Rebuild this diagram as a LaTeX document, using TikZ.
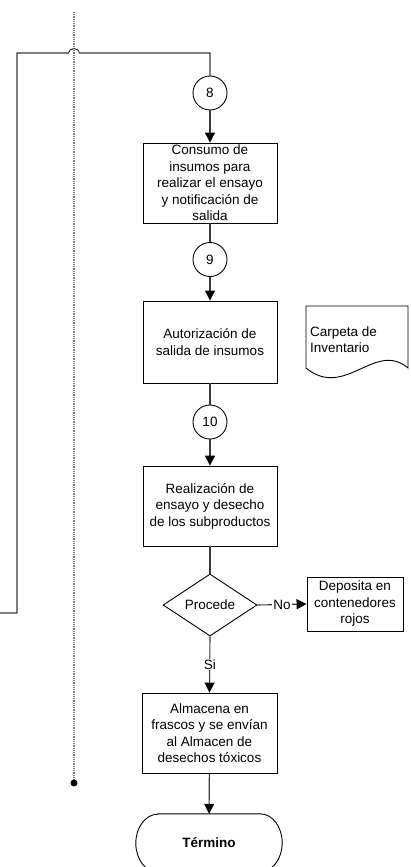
\documentclass[tikz,border=0pt]{standalone}
\usepackage{fontspec}
\setmainfont{Liberation Sans}
\usetikzlibrary{shapes.geometric,arrows.meta}
\definecolor{linegray}{HTML}{3A3A3A}
\begin{document}
\begin{tikzpicture}[x=1pt,y=-1pt,
  txt/.style={font=\fontsize{13.5}{16.5}\selectfont},
  box/.style={txt, draw=black, line width=0.9pt, fill=white, inner sep=0pt, align=center},
  conncircle/.style={txt, draw=black, line width=0.9pt, circle, minimum size=34pt, inner sep=0pt},
  conn/.style={draw=linegray, line width=1.1pt},
  arr/.style={conn, -{Triangle[length=10pt,width=10pt,color=black,fill=black]}},
  lbl/.style={txt, fill=white, inner sep=1pt},
  dotline/.style={draw=gray, line width=1.3pt, dash pattern=on 0.9pt off 0.9pt}]
\useasboundingbox (0,0) rectangle (411,867);
\clip (0,0) rectangle (411,867);

% dotted lane line
\coordinate (dtop) at (74,12);
\coordinate (dbot) at (74,783);
\draw[dotline] (dtop) -- (dbot);
\node[circle, fill=black, minimum size=7pt, inner sep=0pt] (dot) at (dbot) {};

% nodes
\node[conncircle] (c8) at (210,93) {8};
\node[box, minimum width=134pt, minimum height=80pt] (b1) at (210,183)
  {Consumo de\\insumos para\\realizar el ensayo\\y notificación de\\salida};
\node[conncircle] (c9) at (210,259.5) {9};
\node[box, minimum width=134pt, minimum height=82pt] (b2) at (210,342)
  {Autorización de\\salida de insumos};
\node[conncircle] (c10) at (210,422) {10};
\node[box, minimum width=134pt, minimum height=80pt] (b3) at (210,506)
  {Realización de\\ensayo y desecho\\de los subproductos};
\node[txt, draw=black, line width=0.9pt, fill=white, diamond, aspect=1.5,
  minimum width=94pt, minimum height=62pt, inner sep=0pt] (dec) at (210,605) {Procede};
\node[box, minimum width=96pt, minimum height=54pt] (dep) at (355,604)
  {Deposita en\\contenedores\\rojos};
\node[box, minimum width=135pt, minimum height=80pt] (b4) at (209.5,733)
  {Almacena en\\frascos y se envían\\al Almacen de\\desechos tóxicos};
\node[txt, font=\fontsize{13.5}{16.5}\selectfont\bfseries, minimum width=146pt, minimum height=58pt, inner sep=0pt] (term) at (209,843) {Término};
\draw[line width=0.9pt] ([xshift=22pt]term.north west) -- ([xshift=-22pt]term.north east)
  arc[start angle=90, end angle=0, x radius=22pt, y radius=29pt]
  arc[start angle=0, end angle=-90, x radius=22pt, y radius=29pt]
  -- ([xshift=22pt]term.south west)
  arc[start angle=270, end angle=180, x radius=22pt, y radius=29pt]
  arc[start angle=180, end angle=90, x radius=22pt, y radius=29pt] -- cycle;

% document shape
\draw[line width=0.9pt] (306,306) -- (408,306) -- (408,368)
  .. controls (375,340) and (345,400) .. (306,368) -- cycle;
\node[txt, anchor=west, align=left, inner sep=0pt] (doc) at (310,339.5) {Carpeta de\\Inventario};

% connectors
\coordinate (lin) at (0,613);
\draw[conn] (lin) -- (17,613) -- (17,53) -- (68.5,53)
  arc[start angle=180, end angle=0, x radius=5.5pt, y radius=4.5pt] -- (210,53) -- (c8.north);
\draw[arr] (c8) -- (b1);
\draw[conn] (b1) -- (c9);
\draw[arr] (c9) -- (b2);
\draw[conn] (b2) -- (c10);
\draw[arr] (c10) -- (b3);
\draw[conn] (b3) -- (dec);
\draw[arr] (dec.east) -- node[lbl] {No} (dep.west);
\draw[arr] (dec.south) -- node[lbl] {Si} (b4.north);
\draw[arr] (b4) -- (term);
\end{tikzpicture}
\end{document}
